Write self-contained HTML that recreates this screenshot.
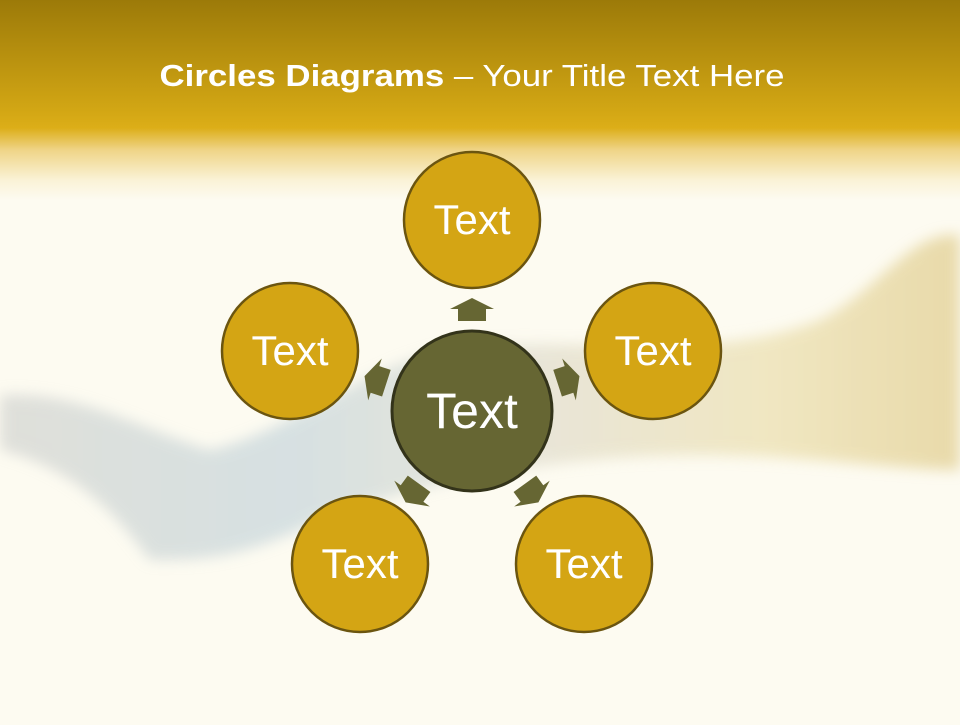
<!DOCTYPE html>
<html><head><style>
html,body{margin:0;padding:0;}
body{width:960px;height:720px;overflow:hidden;background:#fdfbf1;font-family:"Liberation Sans",sans-serif;}
</style></head><body>
<svg width="960" height="720" viewBox="0 0 960 720" xmlns="http://www.w3.org/2000/svg">
<defs>
<linearGradient id="hd" x1="0" y1="0" x2="0" y2="1">
<stop offset="0" stop-color="#9c7a09"/>
<stop offset="0.55" stop-color="#d2a614"/>
<stop offset="0.64" stop-color="#dcae18"/>
<stop offset="0.75" stop-color="#efd487"/>
<stop offset="0.9" stop-color="#faf2d6"/>
<stop offset="1" stop-color="#fdfbf1"/>
</linearGradient>
<linearGradient id="wv" x1="0" y1="0" x2="1" y2="0">
<stop offset="0" stop-color="#d3d4d0"/>
<stop offset="0.3" stop-color="#c6d6dc"/>
<stop offset="0.55" stop-color="#e0ddcf"/>
<stop offset="0.8" stop-color="#ebdfae"/>
<stop offset="1" stop-color="#e0cc8c"/>
</linearGradient>
<filter id="bl"><feGaussianBlur stdDeviation="7"/></filter>
</defs>
<rect width="960" height="720" fill="#fdfbf1"/>
<rect width="960" height="200" fill="url(#hd)"/>
<g filter="url(#bl)" opacity="0.7">
<path d="M0,395 C80,390 140,430 210,450 C300,430 380,350 480,345 C600,340 720,360 820,320 C880,290 910,230 960,235 L960,470 C900,470 800,455 700,455 C560,455 430,480 320,520 C240,560 200,560 150,560 C120,520 80,470 0,450 Z" fill="url(#wv)"/>
</g>
<text x="472" y="86" text-anchor="middle" font-size="31" fill="#fff" textLength="625" lengthAdjust="spacingAndGlyphs"><tspan font-weight="bold">Circles Diagrams</tspan> – Your Title Text Here</text>
<g fill="#666633">
<path id="ar" d="M472,298 L494,309 L486,309 L486,321 L458,321 L458,309 L450,309 Z"/>
<use href="#ar" transform="rotate(72 472 411)"/>
<use href="#ar" transform="rotate(144 472 411)"/>
<use href="#ar" transform="rotate(216 472 411)"/>
<use href="#ar" transform="rotate(288 472 411)"/>
</g>
<g fill="#d4a514" stroke="#6b5510" stroke-width="2.5">
<circle cx="472" cy="220" r="68"/>
<circle cx="290" cy="351" r="68"/>
<circle cx="653" cy="351" r="68"/>
<circle cx="360" cy="564" r="68"/>
<circle cx="584" cy="564" r="68"/>
</g>
<circle cx="472" cy="411" r="80" fill="#666633" stroke="#33331a" stroke-width="3"/>
<g fill="#fff" font-size="42" text-anchor="middle">
<text x="472" y="234">Text</text>
<text x="290" y="365">Text</text>
<text x="653" y="365">Text</text>
<text x="360" y="578">Text</text>
<text x="584" y="578">Text</text>
<text x="472" y="428" font-size="50">Text</text>
</g>
</svg>
</body></html>
